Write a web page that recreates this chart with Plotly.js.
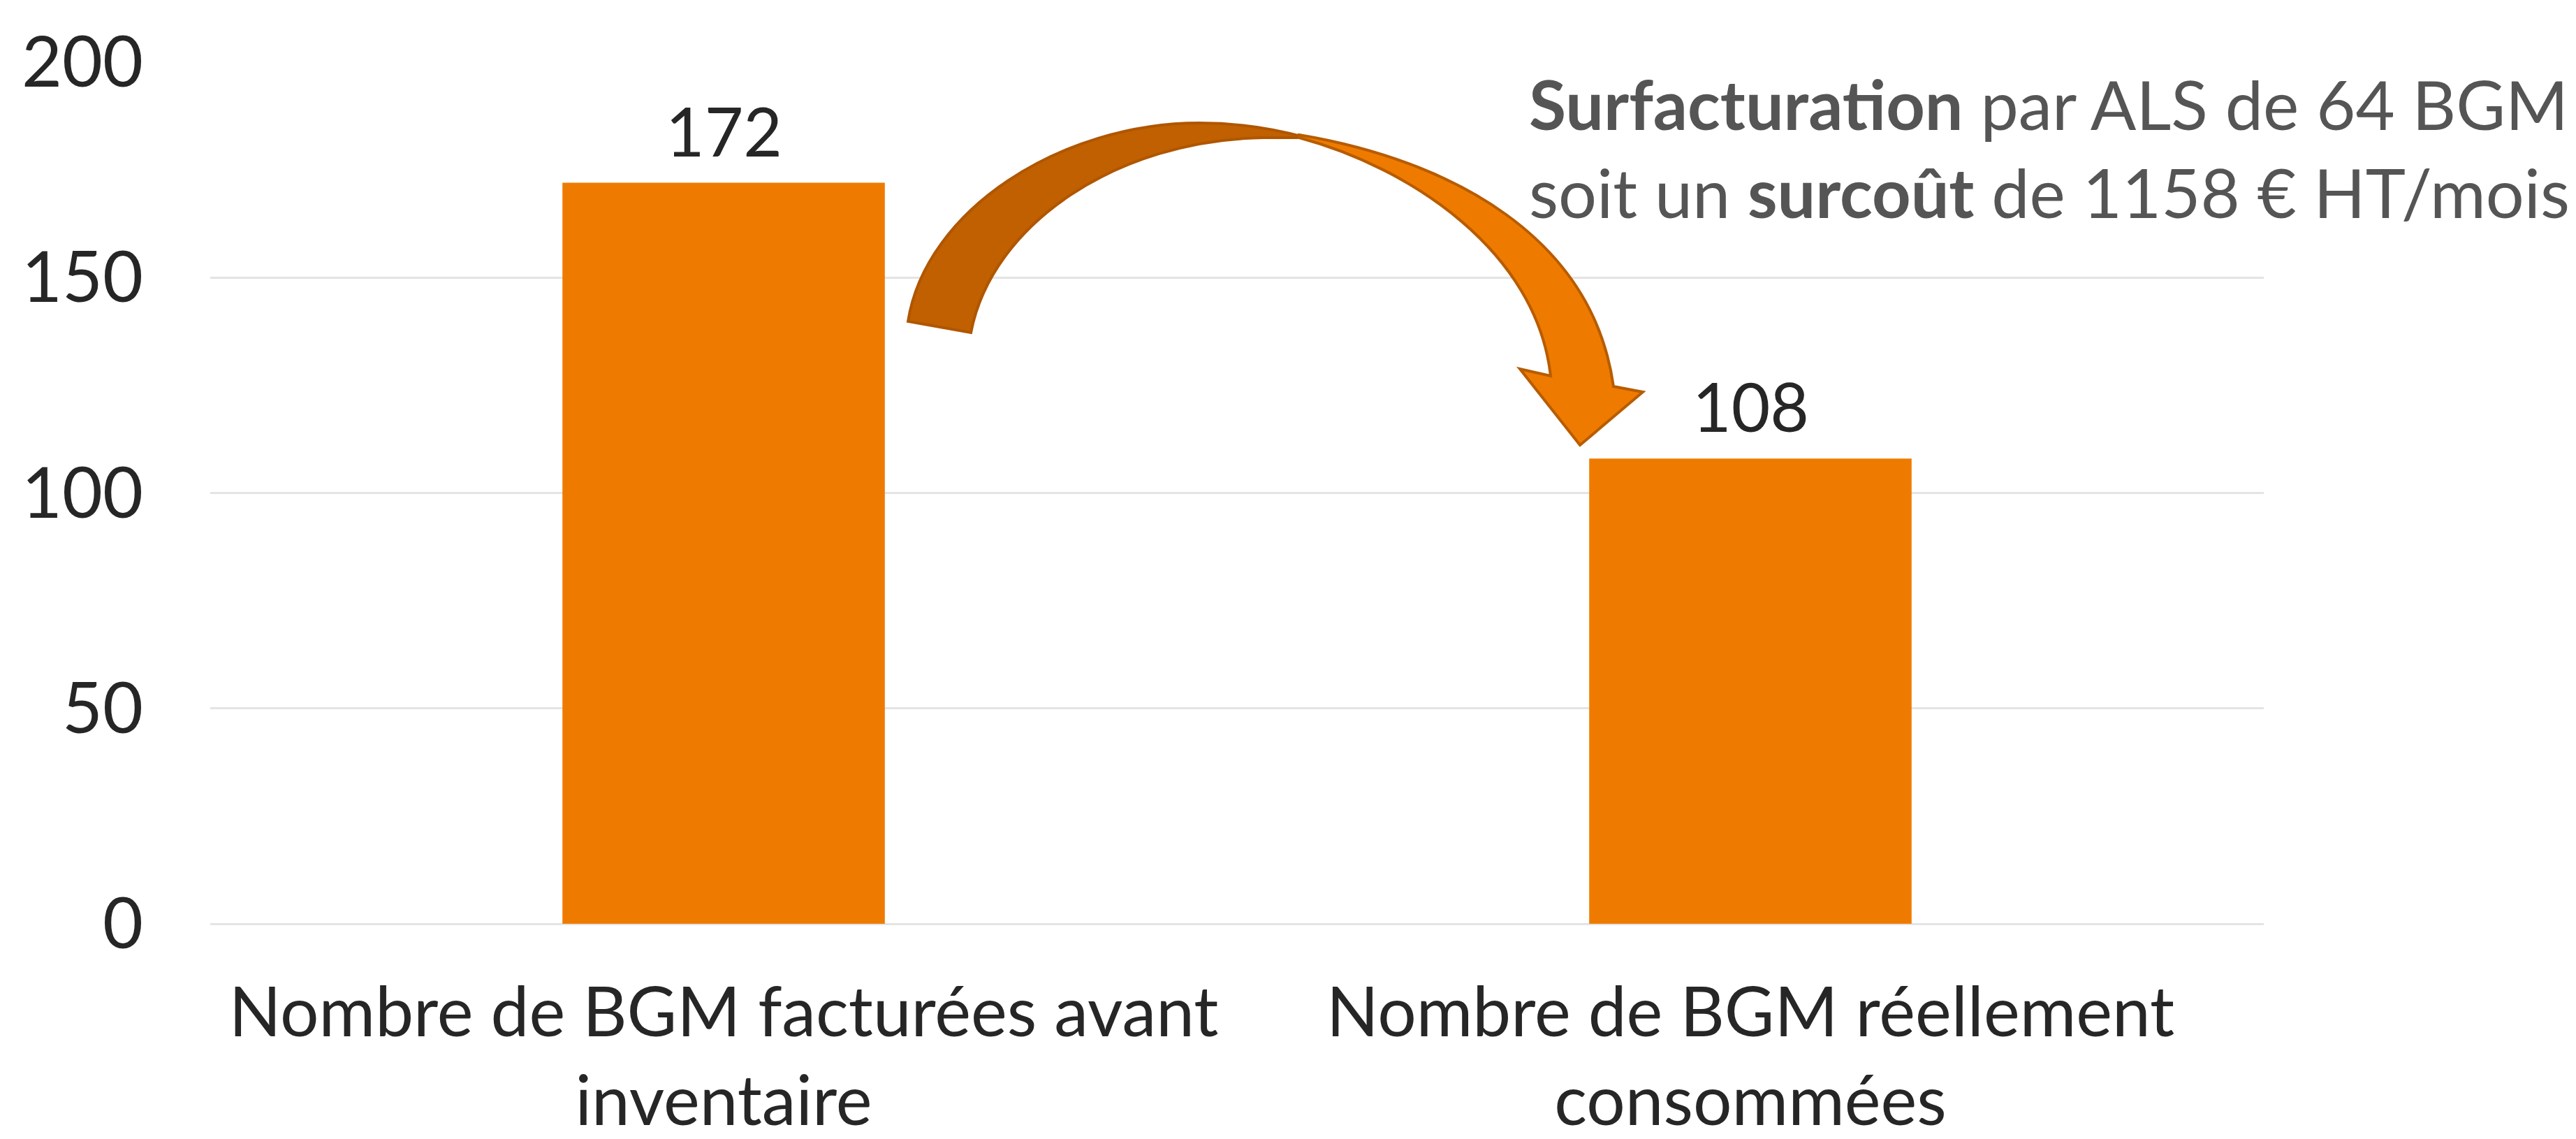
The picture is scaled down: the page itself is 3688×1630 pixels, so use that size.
<!DOCTYPE html>
<html>
<head>
<meta charset="utf-8">
<script src="https://cdn.plot.ly/plotly-3.0.1.min.js"></script>
<style>html,body{margin:0;padding:0;background:#fff;}#chart{width:3688px;height:1630px;}</style>
</head>
<body>
<div id="chart"></div>
<script>
// ---- data ----
const categories = ["Nombre de BGM facturées avant inventaire", "Nombre de BGM réellement consommées"];
const tickLabels = ["Nombre de BGM facturées avant<br>inventaire", "Nombre de BGM réellement<br>consommées"];
const values = [172, 108];
const yTicks = [0, 50, 100, 150, 200];
const noteText = "<b>Surfacturation</b> par ALS de 64 BGM<br>soit un <b>surcoût</b> de 1158 € HT/mois";

// ---- layout geometry ----
const W = 3688, H = 1630;
const M = {l: 301, r: 447, t: 89, b: 308};
const plotW = W - M.l - M.r, plotH = H - M.t - M.b;
const px = x => (x - M.l) / plotW;
const py = y => (H - M.b - y) / plotH;
function path(cmds) {
  return cmds.map(c => {
    if (c[0] === 'Z') return 'Z';
    const pts = [];
    for (let i = 1; i < c.length; i += 2) pts.push(px(c[i]).toFixed(5) + ',' + py(c[i+1]).toFixed(5));
    return c[0] + ' ' + pts.join(' ');
  }).join(' ');
}

// curved arrow (decoration)
const darkPart = path([
  ['M', 1300, 460],
  ['C', 1325, 300, 1520, 176, 1717, 176],
  ['C', 1770, 176, 1820, 183, 1870, 197],
  ['L', 1809, 197],
  ['C', 1600, 200, 1420, 320, 1390, 476],
  ['Z']
]);
const orangePart = path([
  ['M', 1860, 193],
  ['C', 2080, 230, 2280, 340, 2310, 553],
  ['L', 2352, 561],
  ['L', 2262, 637],
  ['L', 2176, 528],
  ['L', 2220, 538],
  ['C', 2200, 360, 2020, 240, 1860, 197],
  ['Z']
]);

const font = 'Lato, "Open Sans", sans-serif';

const trace = {
  type: 'bar',
  x: categories,
  y: values,
  marker: {color: '#EE7B00', line: {width: 0}},
  hoverinfo: 'none'
};

const valueLabels = categories.map((c, i) => ({
  xref: 'x', yref: 'y',
  x: c, y: values[i],
  yanchor: 'bottom', yshift: 16,
  showarrow: false,
  text: String(values[i]),
  font: {family: font, size: 96, color: '#262626'}
}));

const layout = {
  width: W, height: H,
  margin: M,
  paper_bgcolor: '#ffffff',
  plot_bgcolor: '#ffffff',
  showlegend: false,
  bargap: 0.686,
  font: {family: font, color: '#262626'},
  xaxis: {
    type: 'category',
    tickvals: categories,
    ticktext: tickLabels,
    tickfont: {family: font, size: 98, color: '#262626'},
    showline: false, showgrid: false, zeroline: false,
    ticks: '',
    ticklabelstandoff: 62,
    fixedrange: true
  },
  yaxis: {
    range: [0, 200],
    tickvals: yTicks,
    ticktext: yTicks.map(String),
    tickfont: {family: font, size: 100, color: '#262626'},
    showgrid: true, gridcolor: '#E4E4E4', gridwidth: 3,
    zeroline: true, zerolinecolor: '#E4E4E4', zerolinewidth: 3,
    showline: false, ticks: '',
    ticklabelstandoff: 95,
    fixedrange: true
  },
  shapes: [
    {type: 'path', xref: 'paper', yref: 'paper', path: darkPart, fillcolor: '#C06000', line: {color: '#B05600', width: 4}, layer: 'above'},
    {type: 'path', xref: 'paper', yref: 'paper', path: orangePart, fillcolor: '#EE7B00', line: {color: '#B85C00', width: 4}, layer: 'above'}
  ],
  annotations: valueLabels.concat([
    {
      xref: 'paper', yref: 'paper',
      x: px(2187), y: py(88),
      xanchor: 'left', yanchor: 'top',
      align: 'left',
      showarrow: false,
      text: noteText,
      font: {family: font, size: 97, color: '#555555'}
    }
  ])
};

Plotly.newPlot('chart', [trace], layout, {displayModeBar: false, staticPlot: true});
</script>
</body>
</html>
